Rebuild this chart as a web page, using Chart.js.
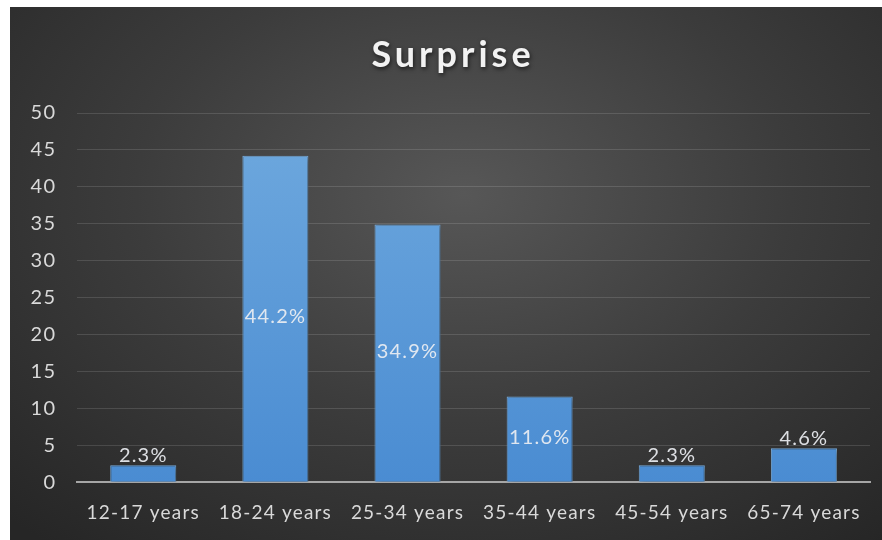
<!DOCTYPE html>
<html>
<head>
<meta charset="utf-8">
<script src="https://cdn.jsdelivr.net/npm/chart.js@4"></script>
<style>
  body { margin: 0; background: #fff; }
  #wrap {
    position: absolute; left: 10px; top: 7px; width: 872px; height: 533px;
    background: radial-gradient(ellipse 75% 85% at 52% 35%, #575757 0%, #3c3c3c 50%, #262626 100%);
  }
</style>
</head>
<body>
<div id="wrap"><canvas id="myChart"></canvas></div>
<script>
const categories = ['12-17 years', '18-24 years', '25-34 years', '35-44 years', '45-54 years', '65-74 years'];
const values = [2.3, 44.2, 34.9, 11.6, 2.3, 4.6];
const yTicks = [0, 5, 10, 15, 20, 25, 30, 35, 40, 45, 50];
const titleText = 'Surprise';

const FONT = 'Lato, "Open Sans", sans-serif';

// letter spacing for all text, title drawn by hand, bar shadow + labels
const extras = {
    id: 'extras',
    beforeDraw(chart) {
        chart.ctx.letterSpacing = '1.2px';
    },
    afterDraw(chart) {
        const ctx = chart.ctx;
        ctx.save();
        ctx.letterSpacing = '4px';
        ctx.font = 'bold 36px ' + FONT;
        ctx.fillStyle = '#f2f2f2';
        ctx.textAlign = 'center';
        ctx.textBaseline = 'middle';
        ctx.shadowColor = 'rgba(0,0,0,0.6)';
        ctx.shadowBlur = 4;
        ctx.shadowOffsetX = 1;
        ctx.shadowOffsetY = 2;
        ctx.fillText(titleText, chart.width / 2 + 7, 48);
        ctx.restore();
    },
    beforeDatasetsDraw(chart) {
        const ctx = chart.ctx;
        ctx.save();
        ctx.shadowColor = 'rgba(0,0,0,0.45)';
        ctx.shadowBlur = 6;
        ctx.shadowOffsetX = 2;
        ctx.shadowOffsetY = 2;
    },
    afterDatasetsDraw(chart) {
        const ctx = chart.ctx;
        ctx.restore();
        const meta = chart.getDatasetMeta(0);
        ctx.save();
        ctx.letterSpacing = '1.2px';
        ctx.font = '20px ' + FONT;
        ctx.fillStyle = 'rgba(235,238,242,0.92)';
        ctx.textAlign = 'center';
        meta.data.forEach(function(bar, i) {
            const h = bar.base - bar.y;
            const text = values[i].toFixed(1) + '%';
            if (h > 40) {
                ctx.textBaseline = 'middle';
                ctx.fillText(text, bar.x, bar.y + h / 2 - 2);
            } else {
                ctx.textBaseline = 'bottom';
                ctx.fillText(text, bar.x, bar.y);
            }
        });
        ctx.restore();
    }
};

function barFill(context) {
    const area = context.chart.chartArea;
    if (!area) return '#5b9bd5';
    const g = context.chart.ctx.createLinearGradient(0, area.top, 0, area.bottom);
    g.addColorStop(0, '#6fa9de');
    g.addColorStop(1, '#4a8cd2');
    return g;
}

function initChart() {
    const data = {
        labels: categories,
        datasets: [{
            label: titleText,
            data: values,
            backgroundColor: barFill,
            borderColor: '#7fb4e4',
            borderWidth: 1,
            categoryPercentage: 1,
            barPercentage: 0.5
        }]
    };
    const config = {
        type: 'bar',
        data: data,
        plugins: [extras],
        options: {
            responsive: true,
            maintainAspectRatio: false,
            animation: false,
            layout: { padding: { top: 106, right: 12, left: 2, bottom: 5 } },
            plugins: {
                legend: { display: false },
                tooltip: { enabled: false },
                title: { display: false }
            },
            scales: {
                x: {
                    grid: { display: false },
                    border: { color: '#a6a6a6', width: 2 },
                    ticks: {
                        color: '#d9d9d9',
                        font: { family: FONT, size: 19 },
                        padding: 11,
                        maxRotation: 0
                    }
                },
                y: {
                    min: 0,
                    max: 50,
                    afterBuildTicks(axis) { axis.ticks = yTicks.map(v => ({ value: v })); },
                    grid: { color: 'rgba(255,255,255,0.13)', drawTicks: false },
                    border: { display: false },
                    ticks: {
                        color: '#d9d9d9',
                        font: { family: FONT, size: 20 },
                        padding: 21
                    }
                }
            }
        }
    };
    new Chart(document.getElementById('myChart'), config);
}

document.addEventListener("DOMContentLoaded", function() {
    initChart();
});
</script>
</body>
</html>
